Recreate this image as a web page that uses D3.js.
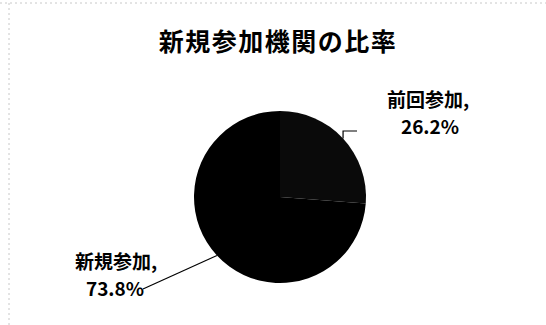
<!DOCTYPE html>
<head>
  <meta charset="utf-8">
  <script src="https://d3js.org/d3.v7.min.js"></script>
  <style>
    body { margin:0; background:#fff; }
    text { font-family: "Noto Sans CJK JP", "Noto Sans", sans-serif; fill:#000; }
  </style>
</head>
<body>
  <svg width="546" height="325" id="vis"></svg>
<script>
  var title = "新規参加機関の比率";
  var categories = ["前回参加", "新規参加"];
  var values = [26.2, 73.8];
  var colors = ["#0a0a0a", "#000000"];

  var svg = d3.select("#vis"),
      cx = 280, cy = 197, r = 86;

  // faint chart-area frame from the scan
  svg.append("path")
    .attr("d", "M0,3H546M9,3V325")
    .attr("stroke", "#c8c8c8")
    .attr("stroke-dasharray", "2,3")
    .attr("fill", "none");

  svg.append("text")
    .attr("x", 278).attr("y", 51)
    .attr("text-anchor", "middle")
    .style("font-size", "25px")
    .style("letter-spacing", "1.5px")
    .style("font-weight", "bold")
    .text(title);

  var pie = d3.pie().sort(null).value(function(d) { return d; });
  var arc = d3.arc().innerRadius(0).outerRadius(r);
  var arcs = pie(values);

  var g = svg.append("g").attr("transform", "translate(" + cx + "," + cy + ")");

  g.selectAll("path.slice").data(arcs).enter().append("path")
    .attr("class", "slice")
    .attr("d", arc)
    .attr("fill", function(d, i) { return colors[i]; });

  // point on the rim at slice midpoint
  function rim(d) {
    var a = (d.startAngle + d.endAngle) / 2;
    return [cx + r * Math.sin(a), cy - r * Math.cos(a)];
  }

  // label for 前回参加 (upper right)
  var p0 = rim(arcs[0]);
  svg.append("path")
    .attr("d", "M" + p0[0] + "," + p0[1] + "V131H357")
    .attr("stroke", "#000").attr("stroke-width", 1.2).attr("fill", "none");

  var l0 = svg.append("text").attr("text-anchor", "middle")
    .style("font-size", "19px").style("font-weight", "bold");
  l0.append("tspan").attr("x", 428).attr("y", 107).text(categories[0] + ",");
  l0.append("tspan").attr("x", 430).attr("y", 134).text(values[0].toFixed(1) + "%");

  // label for 新規参加 (lower left)
  var p1 = rim(arcs[1]);
  svg.append("path")
    .attr("d", "M" + p1[0] + "," + p1[1] + "L143,289")
    .attr("stroke", "#000").attr("stroke-width", 1.2).attr("fill", "none");

  var l1 = svg.append("text").attr("text-anchor", "middle")
    .style("font-size", "19px").style("font-weight", "bold");
  l1.append("tspan").attr("x", 116).attr("y", 269).text(categories[1] + ",");
  l1.append("tspan").attr("x", 115).attr("y", 296).text(values[1].toFixed(1) + "%");
</script>
</body>
